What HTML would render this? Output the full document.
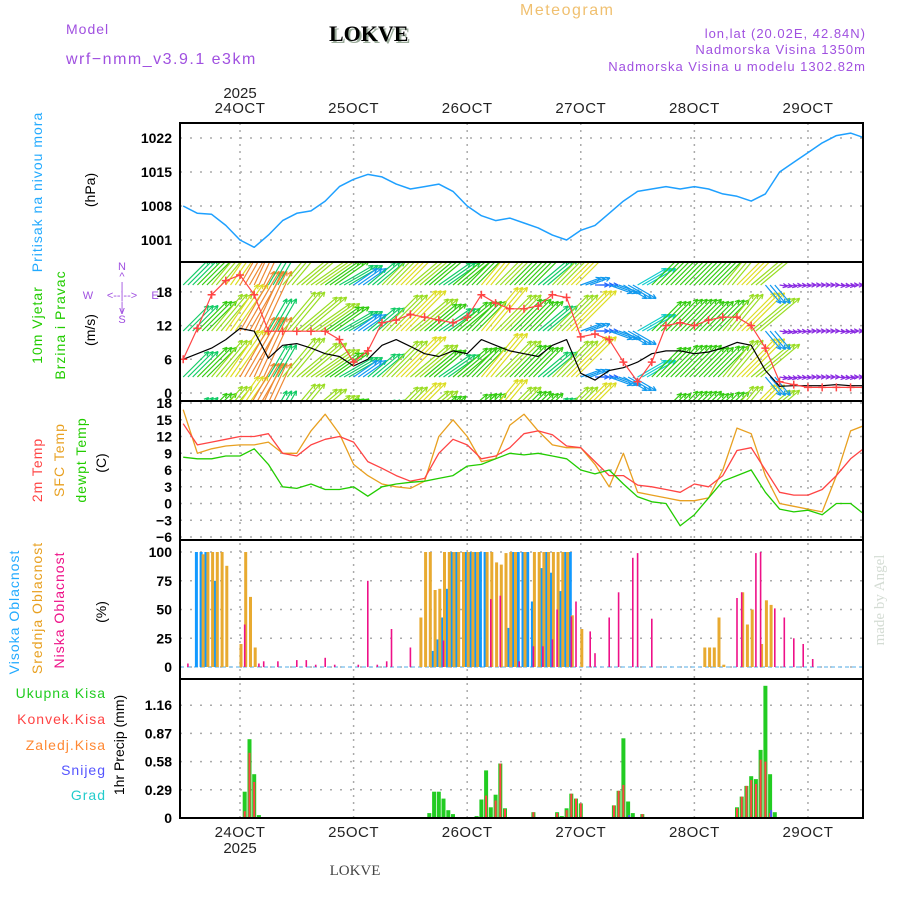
<!DOCTYPE html>
<html><head><meta charset="utf-8"><title>Meteogram LOKVE</title>
<style>
html,body{margin:0;padding:0;background:#fff;}
svg{display:block;font-family:"Liberation Sans",sans-serif;}
</style></head>
<body>
<svg id="chart" width="900" height="900" viewBox="0 0 900 900" xmlns="http://www.w3.org/2000/svg">
<defs>
<clipPath id="clipP"><rect x="180" y="123" width="683" height="139"/></clipPath>
<clipPath id="clipW"><rect x="180" y="262" width="683" height="139"/></clipPath>
<clipPath id="clipT"><rect x="180" y="401" width="683" height="139"/></clipPath>
<clipPath id="clipC"><rect x="180" y="540" width="683" height="139"/></clipPath>
<clipPath id="clipR"><rect x="180" y="679" width="683" height="139"/></clipPath>
</defs>
<g>
<text x="66" y="34" font-size="14" fill="#a050e0" letter-spacing="1">Model</text>
<text x="66" y="64" font-size="16" fill="#a050e0" letter-spacing="1.5">wrf−nmm_v3.9.1 e3km</text>
<text x="331" y="43" font-size="22" font-weight="bold" font-family="Liberation Serif, serif" fill="#9a9">LOKVE</text>
<text x="329" y="41" font-size="22" font-weight="bold" font-family="Liberation Serif, serif" fill="#000">LOKVE</text>
<text x="520" y="15" font-size="16" fill="#f0c070" letter-spacing="1.5">Meteogram</text>
<text x="866" y="38" font-size="13" fill="#a050e0" text-anchor="end" letter-spacing="1">lon,lat (20.02E, 42.84N)</text>
<text x="866" y="54" font-size="13" fill="#a050e0" text-anchor="end" letter-spacing="1">Nadmorska Visina 1350m</text>
<text x="866" y="71" font-size="13" fill="#a050e0" text-anchor="end" letter-spacing="1">Nadmorska Visina u modelu 1302.82m</text>
</g>
<g id="grid"></g>
<g id="marks"></g>
<g id="axes"></g>
<g font-size="14">
<text transform="translate(42,192) rotate(-90)" text-anchor="middle" fill="#22aaff" letter-spacing="1">Pritisak na nivou mora</text>
<text transform="translate(95,190) rotate(-90)" text-anchor="middle" fill="#000">(hPa)</text>
<text transform="translate(42,325) rotate(-90)" text-anchor="middle" fill="#22cc00" letter-spacing="1">10m Vjetar</text>
<text transform="translate(65,325) rotate(-90)" text-anchor="middle" fill="#22cc00" letter-spacing="1">Brzina i Pravac</text>
<text transform="translate(95,330) rotate(-90)" text-anchor="middle" fill="#000">(m/s)</text>
<g fill="#a050e0" font-size="11" text-anchor="middle">
<text x="122" y="270">N</text><text x="122" y="280">^</text><text x="122" y="290">|</text>
<text x="88" y="299">W</text><text x="122" y="299">&lt;--|--&gt;</text><text x="155" y="299">E</text>
<text x="122" y="310">|</text><text x="122" y="314">v</text><text x="122" y="323">S</text>
</g>
<text transform="translate(42,470) rotate(-90)" text-anchor="middle" fill="#ff4444" letter-spacing="1">2m Temp</text>
<text transform="translate(64,460) rotate(-90)" text-anchor="middle" fill="#e8a020" letter-spacing="1">SFC Temp</text>
<text transform="translate(86,460) rotate(-90)" text-anchor="middle" fill="#22cc00" letter-spacing="1">dewpt Temp</text>
<text transform="translate(106,463) rotate(-90)" text-anchor="middle" fill="#000">(C)</text>
<text transform="translate(19,612) rotate(-90)" text-anchor="middle" fill="#22aaff" letter-spacing="1">Visoka Oblacnost</text>
<text transform="translate(42,608) rotate(-90)" text-anchor="middle" fill="#e8a020" letter-spacing="1">Srednja Oblacnost</text>
<text transform="translate(64,610) rotate(-90)" text-anchor="middle" fill="#ee1188" letter-spacing="1">Niska Oblacnost</text>
<text transform="translate(106,612) rotate(-90)" text-anchor="middle" fill="#000">(%)</text>
<g text-anchor="end" letter-spacing="1">
<text x="106" y="698" fill="#22cc22">Ukupna Kisa</text>
<text x="106" y="724" fill="#ff4444">Konvek.Kisa</text>
<text x="106" y="750" fill="#ff8833">Zaledj.Kisa</text>
<text x="106" y="775" fill="#5555ff">Snijeg</text>
<text x="106" y="800" fill="#22cccc">Grad</text>
</g>
<text transform="translate(124,745) rotate(-90)" text-anchor="middle" fill="#000">1hr Precip (mm)</text>
</g>
<text x="355" y="875" font-size="15" font-family="Liberation Serif, serif" fill="#444" text-anchor="middle">LOKVE</text>
<text transform="translate(884,600) rotate(-90)" font-size="15" font-family="Liberation Serif, serif" fill="#d4dcd4" text-anchor="middle">made by Angel</text>
</svg>
<script>
// time: hours relative to 24 OCT 00Z, 3-hourly samples
var times3h = [-12,-9,-6,-3,0,3,6,9,12,15,18,21,24,27,30,33,36,39,42,45,48,51,54,57,60,63,66,69,72,75,78,81,84,87,90,93,96,99,102,105,108,111,114,117,120,123,126,129,132];
var pressure = [1008,1006.5,1006.3,1004,1001,999.5,1002,1005,1006.5,1007,1009,1012,1013.5,1014.5,1014,1012.5,1011.5,1012,1012.5,1011,1008,1006,1005,1005.5,1004.5,1003.5,1002,1001,1003,1004,1006.5,1009,1011,1011.5,1012,1011.5,1012,1011.5,1010.5,1010,1009,1010.5,1015,1017,1019,1021,1022.5,1023,1022];
var windSpeed = [6,7,8,9.5,11.5,11,6.2,8.5,8.8,8,7,6.5,4.8,6,8.5,9.5,8.3,7,6.5,7.5,7,9.5,8.5,7.5,7,6.5,8.5,9.5,3.5,2.3,4,4.5,5.5,7,7.5,7.5,7,7.3,8,9,8.5,4,1.2,1.3,1.3,1.3,1.5,1.3,1.3];
var windGust = [6,11.5,17.5,20,21,17.5,11,11,11,11,11,9.5,5.5,7.5,12.5,13,14,13.5,13,12.5,13.5,17.5,16,15,15,15.5,17.5,17,10,10.5,9.5,5.5,2,5.5,12,12.5,12,13,13.5,13.5,12,8,2,1.5,1,1,1,1,1];
var windDir = [225,225,220,215,210,205,210,220,230,235,235,240,235,230,225,225,230,230,235,230,225,220,225,225,225,230,225,225,250,270,290,300,240,225,225,225,225,225,220,225,230,320,280,275,270,270,275,270,270];
var temp2m = [14.3,10.5,11,11.5,12,12,12.5,9,8.5,10.5,11.5,12,11,7.5,6.3,5,4,4.5,9,11.5,10.5,8,8.5,10,12.5,13,12.3,10.3,10,7.5,5,5,3.3,3,2.5,2,3.5,3,5,9.5,10,6,2,1.5,1.5,2.5,5,8,10];
var tempSfc = [16.8,9,9.8,10.3,10.5,10.5,11,9,9,13,16,12.5,7,5,3.5,3,2.7,4,12,15,12,7.5,8,14,16,13,10.5,10,10,7,3,9,2,1.5,1,0.5,0.5,1,6,13.5,12.5,5,0,-0.5,-1,-1.5,5,13,14];
var tempDew = [8.3,8,8,8.5,8.5,9.8,7,3,2.7,3.5,2.5,2.5,3,1.3,3,3.5,3.8,4,4.5,5,6.7,7,8,9,8.7,9,8.5,8,6,5.3,6,3.5,1.2,0.3,0,-4,-2,1,4,5,6,2,-1,-1.5,-1.2,-2,0,0,-2];
// cloud cover (%) hourly events: hour, value
var cloudHighHours = [-9,-8,-7,-5,41,42,43,44,45,46,48,49,50,51,52,57,58,59,60,61,62,64,65,66,68,69,70];
var cloudHighVals  = [100,100,100,75,14,24,43,68,100,100,100,100,100,100,100,34,100,100,100,100,57,86,100,82,66,100,100];
var cloudMidHours = [-8,-7,-6,-5,-4,-3,0,1,2,3,38,39,40,41,42,43,44,45,46,47,48,49,50,52,53,54,55,56,57,58,60,62,63,64,65,66,67,68,69,70,72,98,99,100,101,102,106,107,108,110,111,112];
var cloudMidVals  = [98,100,100,100,100,88,20,100,61,17,43,100,100,67,68,100,100,100,100,100,100,100,100,100,100,91,89,99,100,100,100,100,100,100,100,100,100,100,100,45,33,17,17,17,43,2,65,37,50,20,58,54];
var cloudLowHours = [-11,1,4,5,8,12,14,16,18,20,25,27,29,31,32,36,43,53,55,59,62,64,66,67,70,71,74,75,78,80,83,84,87,105,106,109,110,113,115,117,119,121];
var cloudLowVals  = [3,37,3,5,5,6,6,2,8,2,2,75,2,5,33,17,23,59,62,5,18,18,24,50,44,57,31,12,43,65,95,99,42,60,65,99,100,51,43,25,20,7];
// precipitation (mm/h)
var rainTotalHours = [1,2,3,4,40,41,42,43,44,45,50,51,52,53,54,55,56,62,67,68,69,70,71,72,79,80,81,82,83,85,86,105,106,107,108,109,110,111,112,113];
var rainTotalVals  = [0.27,0.81,0.45,0.03,0.05,0.27,0.27,0.2,0.08,0.04,0.02,0.19,0.49,0.11,0.24,0.56,0.1,0.06,0.06,0.02,0.1,0.25,0.2,0.15,0.13,0.28,0.82,0.17,0.05,0.04,0.01,0.11,0.22,0.33,0.43,0.4,0.7,1.36,0.45,0.06];
var rainConvHours = [1,2,3,52,54,55,56,60,62,67,69,70,71,72,78,79,80,81,85,105,106,107,108,109,110,111,112];
var rainConvVals  = [0.07,0.67,0.37,0.23,0.18,0.56,0.09,0.01,0.06,0.05,0.08,0.25,0.2,0.15,0.01,0.13,0.28,0.34,0.04,0.1,0.22,0.33,0.39,0.35,0.6,0.58,0.05];
var snowHours = [82,112];
var snowVals  = [0.03,0.08];
// axis ticks
var dayLabels = ["24OCT","25OCT","26OCT","27OCT","28OCT","29OCT"];
var dayHours = [0,24,48,72,96,120];
var pTicks = [1001,1008,1015,1022];
var wTicks = [0,6,12,18];
var tTicks = [-6,-3,0,3,6,9,12,15,18];
var cTicks = [0,25,50,75,100];
var rTicks = [0,0.29,0.58,0.87,1.16];

var NS='http://www.w3.org/2000/svg';
var L=180,R=863;
function X(h){return 240+h*4.733;}
function yP(v){return 240-(v-1001)*34/7;}
function yW(v){return 393-v*33.7/6;}
function yT(v){return 403+(18-v)*134/24;}
function yC(v){return 667-v*1.15;}
function yR(v){return 818-v*28.2/0.29;}
function mk(tag,attrs,parent){var e=document.createElementNS(NS,tag);for(var k in attrs)e.setAttribute(k,attrs[k]);parent.appendChild(e);return e;}
var grid=document.getElementById('grid'),marks=document.getElementById('marks'),axes=document.getElementById('axes');
var panels=[{top:123,ticks:pTicks,f:yP,fmt:function(v){return v;},name:'pressure'},
{top:262,ticks:wTicks,f:yW,fmt:function(v){return v;},name:'wind'},
{top:401,ticks:tTicks,f:yT,fmt:function(v){return v<0?'−'+(-v):v;},name:'temp'},
{top:540,ticks:cTicks,f:yC,fmt:function(v){return v;},name:'cloud'},
{top:679,ticks:rTicks,f:yR,fmt:function(v){return v===0?'0':v.toFixed(2);},name:'precip'}];
dayHours.forEach(function(h){
 var ln=mk('line',{x1:X(h),x2:X(h),y1:123,y2:818,stroke:'#aaa','stroke-width':1.5,'stroke-dasharray':'2,5'},grid);
 
 
});
panels.forEach(function(p){
 p.ticks.forEach(function(v){
  var y=p.f(v);
  var g=mk('line',{x1:L,x2:R,y1:y,y2:y,stroke:'#aaa','stroke-width':1.5,'stroke-dasharray':'2,8'},grid);
  
  
  var t=mk('text',{x:172,y:y+5,'text-anchor':'end','font-size':14,fill:'#000','font-weight':'bold'},axes);
  t.textContent=p.fmt(v);
  
  
 });
 var b=mk('rect',{x:L,y:p.top,width:R-L,height:139,fill:'none',stroke:'#000','stroke-width':2},axes);
 
 
});
dayHours.forEach(function(h,i){
 var t=mk('text',{x:X(h),y:113,'text-anchor':'middle','font-size':15,fill:'#222','letter-spacing':0.5},axes);
 t.textContent=dayLabels[i];
 
 
 var b=mk('text',{x:X(h),y:837,'text-anchor':'middle','font-size':15,fill:'#222','letter-spacing':0.5},axes);
 b.textContent=dayLabels[i];
 
 
});
var y1=mk('text',{x:X(0),y:98,'text-anchor':'middle','font-size':15,fill:'#222'},axes);y1.textContent='2025';


var y2=mk('text',{x:X(0),y:853,'text-anchor':'middle','font-size':15,fill:'#222'},axes);y2.textContent='2025';


mk('line',{x1:L,x2:R,y1:818,y2:818,stroke:'#000','stroke-width':2,'stroke-dasharray':'6,2'},axes);

function polyline(vals,f,color,w,clip,name){
 var pts=vals.map(function(v,i){return X(times3h[i]).toFixed(1)+','+f(v).toFixed(1);}).join(' ');
 var pl=mk('polyline',{points:pts,fill:'none',stroke:color,'stroke-width':w,'clip-path':'url(#'+clip+')','stroke-linejoin':'round'},marks);
 
 
}
polyline(pressure,yP,'#1ea0ff',1.5,'clipP','pressure-line');

function spdColor(s){
 if(s<2)return '#8a2be2';if(s<3.5)return '#2266ff';if(s<5)return '#1199ee';if(s<6)return '#11cccc';
 if(s<7)return '#11cc66';if(s<8)return '#33cc11';if(s<9)return '#99dd22';if(s<10)return '#dddd22';
 if(s<11)return '#eebb22';if(s<12)return '#ee8833';return '#ee4444';}
var wg=mk('g',{'clip-path':'url(#clipW)'},marks);


var rows=[239,285,331,377,423];
times3h.forEach(function(t0,i){
 for(var k=0;k<3;k++){
  var h=t0+k, s=windSpeed[i], d=windDir[i]*Math.PI/180;
  var len=Math.max(8,s*6);
  var ux=-Math.sin(d), uy=-Math.cos(d); // direction wind blows toward (north positive)
  var x0=X(h), col=spdColor(s);
  rows.forEach(function(ry){
   var x1=x0+ux*len, y1=ry-uy*len;
   var a=Math.atan2(y1-ry,x1-x0);
   var hp='M'+x1.toFixed(1)+','+y1.toFixed(1)+' L'+(x1-5*Math.cos(a-0.45)).toFixed(1)+','+(y1-5*Math.sin(a-0.45)).toFixed(1)+
     ' M'+x1.toFixed(1)+','+y1.toFixed(1)+' L'+(x1-5*Math.cos(a+0.45)).toFixed(1)+','+(y1-5*Math.sin(a+0.45)).toFixed(1);
   var ar=mk('path',{d:'M'+x0.toFixed(1)+','+ry+' L'+x1.toFixed(1)+','+y1.toFixed(1)+' '+hp,stroke:col,'stroke-width':1.2,fill:'none'},wg);
   
   
  });
 }
});
polyline(windSpeed,yW,'#000',1.2,'clipW','wind-speed-line');
polyline(windGust,yW,'#ff4444',1.2,'clipW','wind-gust-line');
var gg=mk('g',{'clip-path':'url(#clipW)'},marks);
windGust.forEach(function(v,i){
 var x=X(times3h[i]),y=yW(v);
 var c=mk('path',{d:'M'+(x-4)+','+y+' H'+(x+4)+' M'+x+','+(y-4)+' V'+(y+4),stroke:'#ff4444','stroke-width':1.5},gg);
 
 
});

polyline(tempSfc,yT,'#e8a020',1.3,'clipT','sfc-temp-line');
polyline(temp2m,yT,'#ff4444',1.3,'clipT','2m-temp-line');
polyline(tempDew,yT,'#22cc00',1.3,'clipT','dewpoint-line');

function bars(hours,vals,f,color,w,off,clip,name){
 hours.forEach(function(h,i){
  var x=X(h)+off,y=f(vals[i]),y0=f(0);
  var r=mk('rect',{x:(x-w/2).toFixed(1),y:y.toFixed(1),width:w,height:Math.max(0,y0-y).toFixed(1),fill:color,'clip-path':'url(#'+clip+')'},marks);
  
  
 });
}
mk('line',{x1:L,x2:R,y1:667,y2:667,stroke:'#8cc8f0','stroke-width':1.5,'stroke-dasharray':'4,3'},marks);
bars(cloudHighHours,cloudHighVals,yC,'#1199ff',3,-1,'clipC','high-cloud-bar');
bars(cloudMidHours,cloudMidVals,yC,'#e8aa30',3,1,'clipC','mid-cloud-bar');
bars(cloudLowHours,cloudLowVals,yC,'#ee1188',1.6,0,'clipC','low-cloud-bar');
bars(rainTotalHours,rainTotalVals,yR,'#22cc22',4,0,'clipR','total-rain-bar');
bars(rainConvHours,rainConvVals,yR,'#ff4444',2,0,'clipR','convective-rain-bar');
bars(snowHours,snowVals,yR,'#5555ff',2,1,'clipR','snow-bar');
</script>
</body></html>
